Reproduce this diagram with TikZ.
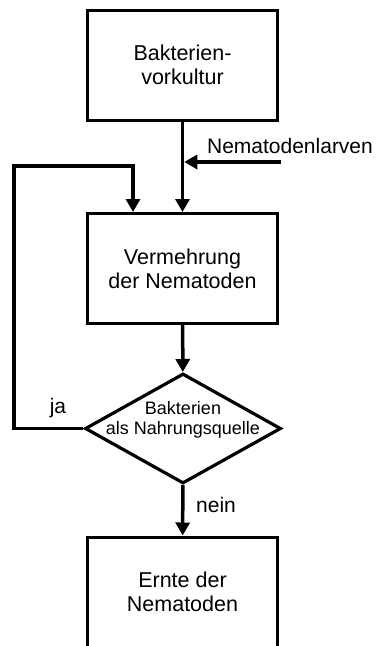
\documentclass[tikz,border=0pt]{standalone}
\usepackage{fontspec}
\setmainfont{Liberation Sans}
\usetikzlibrary{arrows.meta,shapes.geometric}

\begin{document}
\begin{tikzpicture}[
		x=1pt, y=-1pt,
		box/.style={draw, line width=3pt, minimum width=190pt, minimum height=110pt,
				align=center, font=\fontsize{21.5}{24}\selectfont},
		decision/.style={diamond, draw, line width=3.2pt, minimum width=196pt,
				minimum height=110pt, inner sep=0pt},
		arrow/.style={line width=3.5pt, -{Triangle[length=13pt,width=14pt]}},
		note/.style={font=\fontsize{21}{24}\selectfont}
	]
	\clip (0,0) rectangle (379,646);
	\node[box] (vorkultur) at (182.5,65) {Bakterien-\\vorkultur};
	\node[box] (vermehrung) at (182.5,268.5) {Vermehrung\\der Nematoden};
	\node[decision] (dec) at (183,428.5) {};
	\node[font=\fontsize{18}{20}\selectfont, align=center] (frage)
		at ([yshift=9pt]dec.center) {Bakterien\\als Nahrungsquelle};
	\node[box] (ernte) at (182.5,592) {Ernte der\\Nematoden};

	\node[note] (larven) at (290,146) {Nematodenlarven};
	\coordinate (einlauf) at (281,162);
	\coordinate (ruecklauf) at (14,166);

	\draw[arrow] (vorkultur) -- (vermehrung);
	\draw[arrow, shorten >=1.75pt] (einlauf) -- (einlauf -| vorkultur);
	\draw[arrow] (vermehrung) -- (dec);
	\draw[arrow] (dec.west) -| (ruecklauf) -| ([xshift=-49.5pt]vermehrung.north);
	\draw[arrow] (dec) -- (ernte);

	\node[note] (ja) at (58,408) {ja};
	\node[note] (nein) at (216,505) {nein};
\end{tikzpicture}
\end{document}
